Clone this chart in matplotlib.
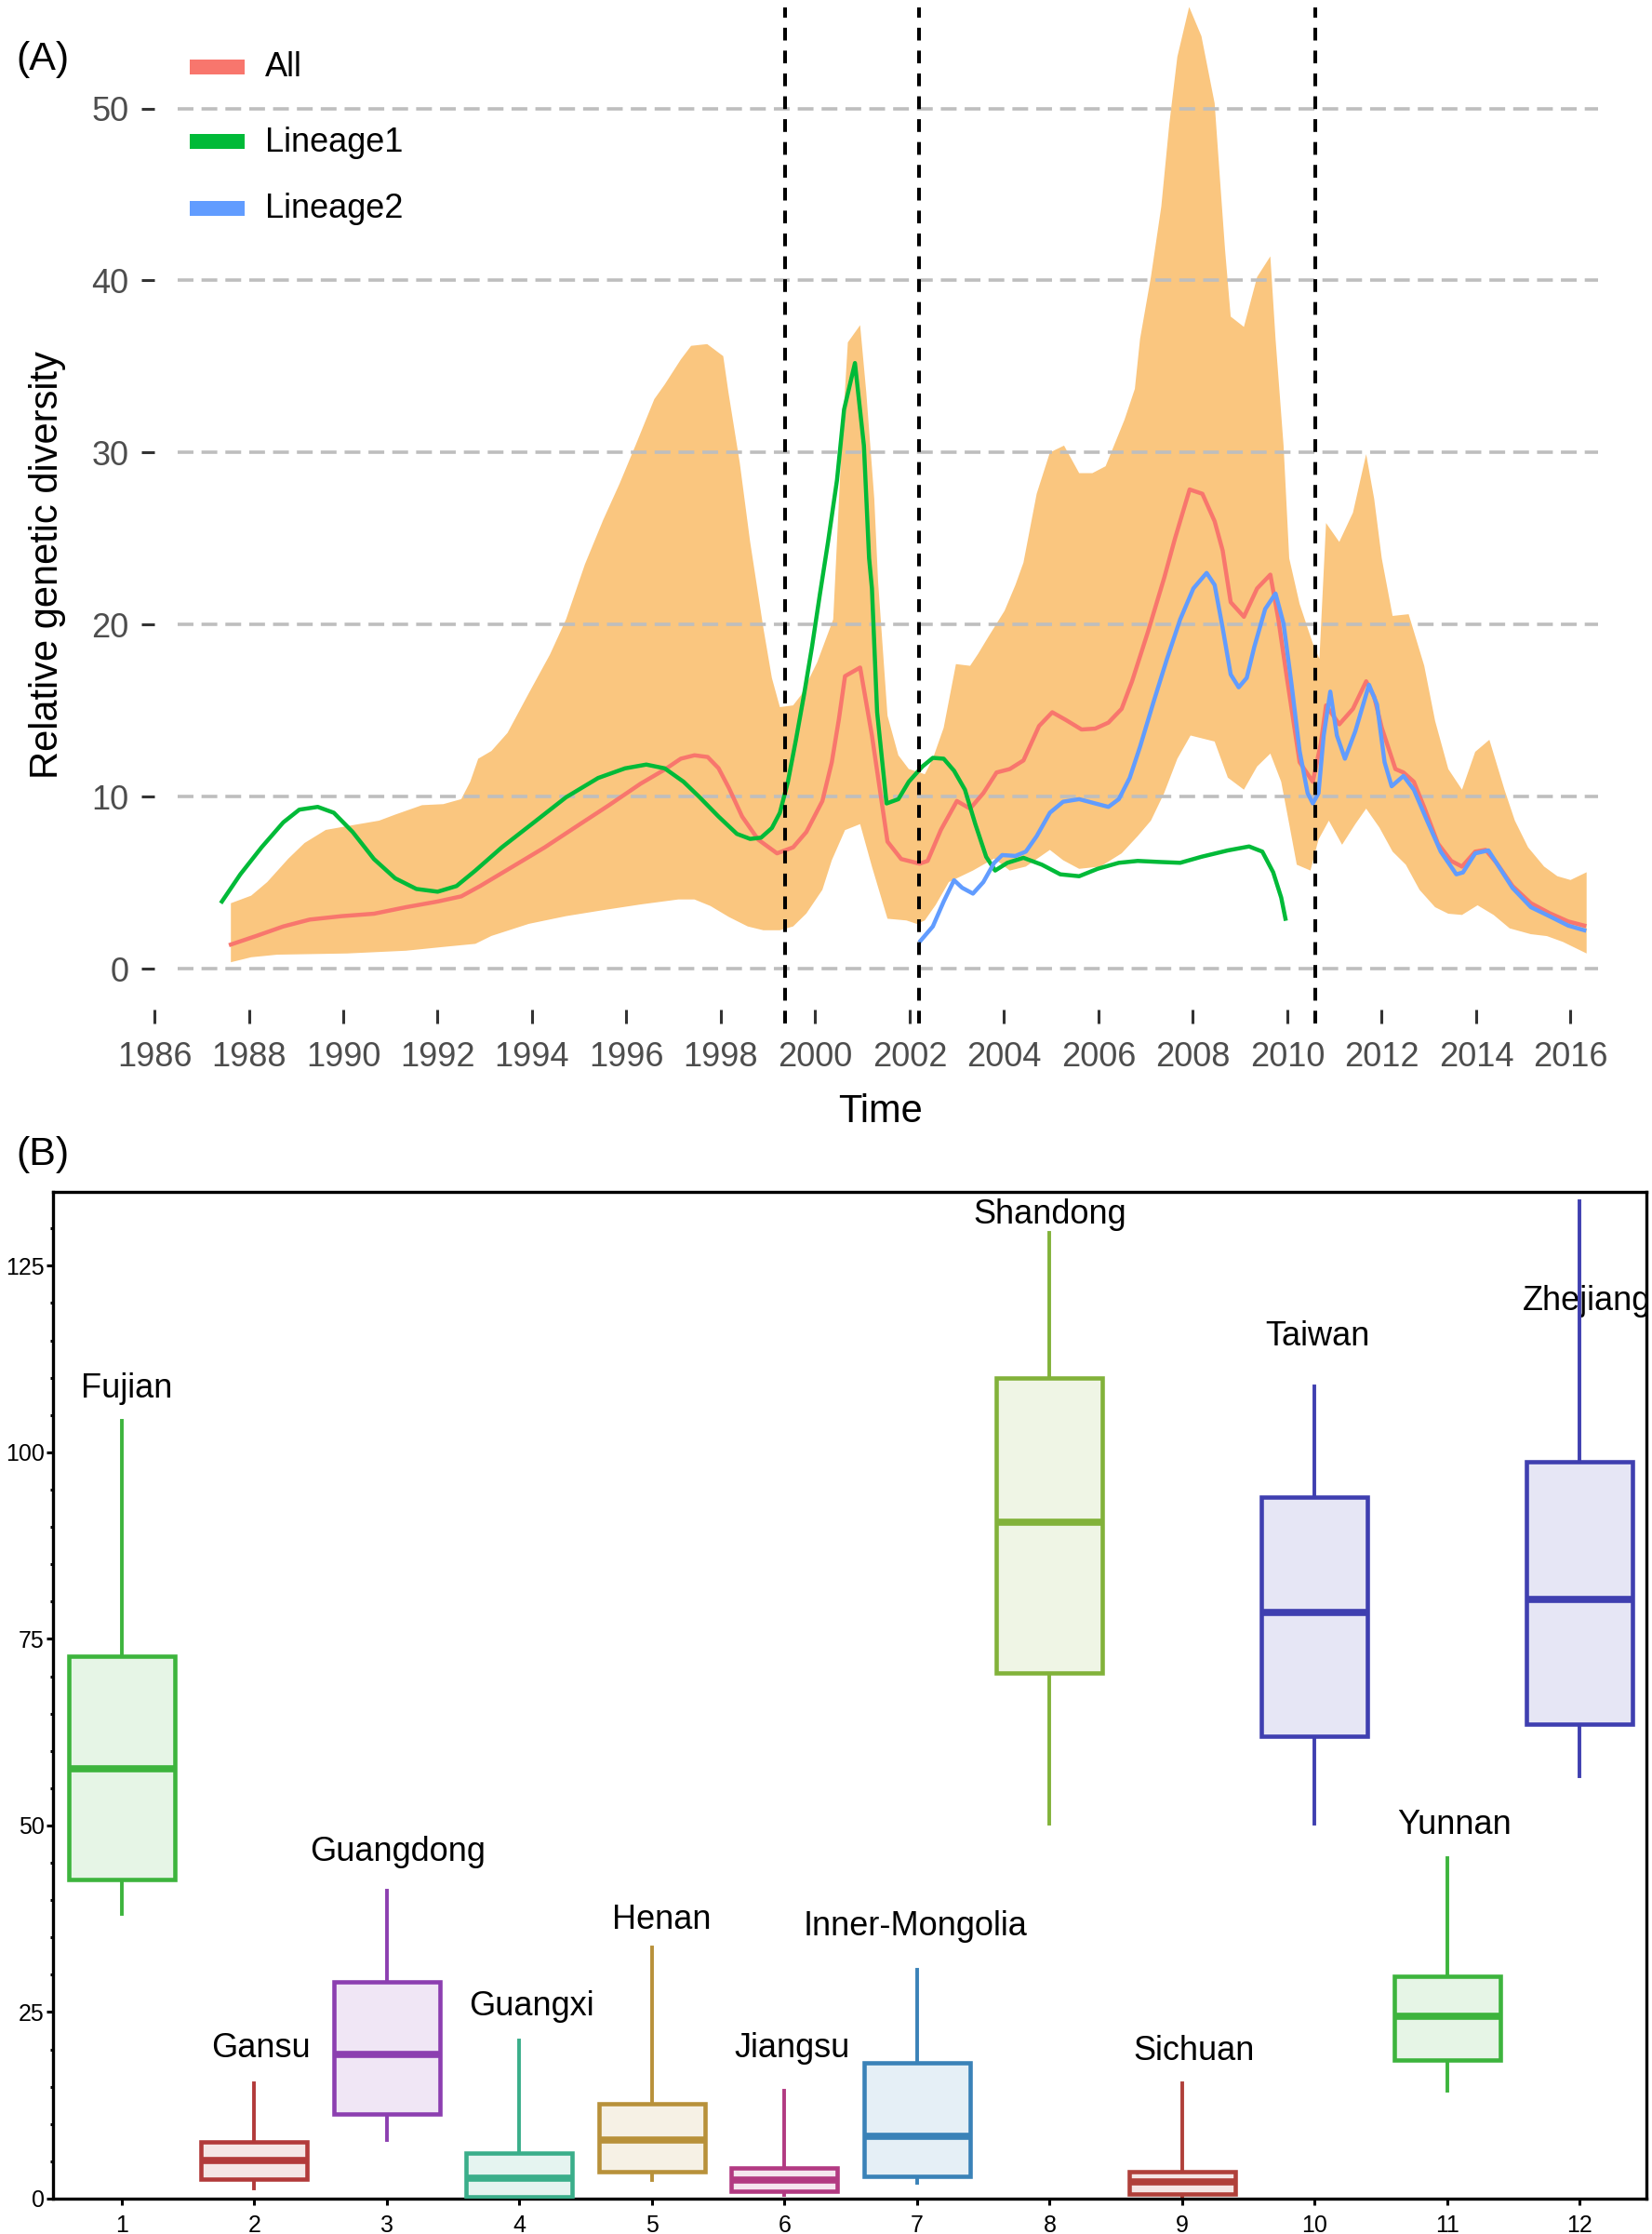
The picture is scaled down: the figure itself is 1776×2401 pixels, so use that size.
import numpy as np
import matplotlib
matplotlib.use("Agg")
import matplotlib.pyplot as plt
from matplotlib.patches import Rectangle
from matplotlib.ticker import MultipleLocator

plt.rcParams['font.family'] = ['Liberation Sans', 'DejaVu Sans']

# ---------------- Panel A data ----------------
ci_upper_year = [1987.62, 1988.05, 1988.39, 1988.84, 1989.18, 1989.63, 1990.08, 1990.76, 1991.10,
                 1991.67, 1992.12, 1992.50, 1992.69, 1992.86, 1993.14, 1993.48, 1993.93, 1994.38,
                 1994.72, 1995.12, 1995.51, 1995.85, 1996.19, 1996.59, 1996.81, 1997.15, 1997.37,
                 1997.71, 1998.05, 1998.16, 1998.40, 1998.62, 1998.90, 1999.08, 1999.25, 1999.53,
                 1999.70, 2000.04, 2000.38, 2000.55, 2000.69, 2000.95, 2001.08, 2001.25, 2001.33,
                 2001.53, 2001.76, 2001.98, 2002.32, 2002.49, 2002.72, 2002.98, 2003.28, 2003.45,
                 2003.67, 2004.01, 2004.24, 2004.41, 2004.69, 2004.97, 2005.27, 2005.59, 2005.87,
                 2006.15, 2006.55, 2006.77, 2006.88, 2007.11, 2007.33, 2007.50, 2007.67, 2007.92,
                 2008.18, 2008.46, 2008.57, 2008.68, 2008.80, 2009.08, 2009.36, 2009.64, 2009.75,
                 2009.92, 2010.04, 2010.26, 2010.43, 2010.54, 2010.68, 2010.82, 2011.10, 2011.39,
                 2011.67, 2011.84, 2012.00, 2012.23, 2012.57, 2012.90, 2013.13, 2013.41, 2013.70,
                 2013.98, 2014.28, 2014.60, 2014.82, 2015.10, 2015.44, 2015.72, 2016.00, 2016.34]
ci_upper_val = [3.8, 4.24, 5.03, 6.4, 7.3, 8.06, 8.28, 8.6, 8.95,
                9.5, 9.56, 9.85, 10.86, 12.2, 12.65, 13.7, 16.0, 18.26,
                20.3, 23.5, 26.1, 28.16, 30.4, 33.1, 33.95, 35.4, 36.2,
                36.3, 35.6, 33.5, 29.4, 24.8, 19.8, 16.9, 15.2, 15.3,
                15.9, 17.8, 20.3, 30.0, 36.4, 37.4, 33.5, 27.3, 22.5,
                14.7, 12.4, 11.6, 11.3, 12.2, 14.0, 17.7, 17.6, 18.3,
                19.3, 20.8, 22.3, 23.6, 27.6, 30.0, 30.4, 28.8, 28.8,
                29.2, 31.9, 33.7, 36.6, 40.2, 44.3, 49.1, 53.0, 55.9,
                54.2, 50.3, 46.0, 41.8, 37.9, 37.3, 40.2, 41.4, 36.6,
                30.4, 23.85, 21.2, 19.8, 18.9, 18.0, 25.9, 24.8, 26.5,
                29.9, 27.3, 23.85, 20.5, 20.6, 17.6, 14.4, 11.6, 10.4,
                12.6, 13.3, 10.4, 8.6, 7.05, 5.93, 5.37, 5.15, 5.6]

ci_lower_year = [1987.62, 1988.05, 1988.60, 1990.08, 1991.33, 1992.12, 1992.80, 1993.14, 1993.93,
                 1994.72, 1995.51, 1996.30, 1997.10, 1997.44, 1997.78, 1998.17, 1998.57, 1998.90,
                 1999.25, 1999.53, 1999.81, 2000.15, 2000.35, 2000.63, 2000.95, 2001.20, 2001.53,
                 2001.93, 2002.15, 2002.32, 2002.55, 2002.83, 2003.34, 2003.79, 2004.12, 2004.46,
                 2004.97, 2005.25, 2005.59, 2006.04, 2006.49, 2006.83, 2007.11, 2007.39, 2007.67,
                 2007.95, 2008.46, 2008.74, 2009.08, 2009.36, 2009.64, 2009.87, 2010.04, 2010.20,
                 2010.49, 2010.66, 2010.88, 2011.16, 2011.44, 2011.67, 2011.95, 2012.23, 2012.51,
                 2012.80, 2013.13, 2013.41, 2013.70, 2014.03, 2014.37, 2014.71, 2015.16, 2015.50,
                 2015.84, 2016.34]
ci_lower_val = [0.37, 0.66, 0.81, 0.88, 1.04, 1.26, 1.44, 1.9, 2.6,
                3.05, 3.4, 3.73, 4.02, 4.02, 3.64, 3.0, 2.45, 2.23,
                2.23, 2.45, 3.2, 4.58, 6.3, 8.05, 8.4, 5.93, 2.9,
                2.8, 2.6, 2.8, 3.7, 5.03, 5.7, 6.4, 5.7, 5.93,
                6.9, 6.3, 5.8, 5.93, 6.7, 7.7, 8.6, 10.2, 12.2,
                13.55, 13.2, 11.1, 10.4, 11.75, 12.5, 10.86, 8.4, 6.04,
                5.7, 7.5, 8.6, 7.2, 8.4, 9.3, 8.2, 6.8, 6.04,
                4.58, 3.57, 3.19, 3.12, 3.68, 3.12, 2.34, 2.0, 1.89,
                1.55, 0.88]

all_year = [1987.62, 1988.16, 1988.73, 1989.29, 1989.97, 1990.65, 1991.33, 1992.00, 1992.50,
            1992.90, 1993.59, 1994.27, 1994.95, 1995.63, 1996.30, 1996.81, 1997.15, 1997.44,
            1997.72, 1997.95, 1998.17, 1998.45, 1998.79, 1999.19, 1999.53, 1999.81, 2000.15,
            2000.35, 2000.50, 2000.63, 2000.95, 2001.20, 2001.53, 2001.82, 2002.21, 2002.38,
            2002.66, 2003.00, 2003.28, 2003.56, 2003.84, 2004.12, 2004.41, 2004.74, 2005.02,
            2005.31, 2005.64, 2005.93, 2006.21, 2006.49, 2006.71, 2007.05, 2007.39, 2007.62,
            2007.93, 2008.20, 2008.46, 2008.63, 2008.80, 2009.08, 2009.36, 2009.64, 2009.81,
            2009.98, 2010.15, 2010.26, 2010.54, 2010.71, 2010.82, 2011.10, 2011.39, 2011.67,
            2011.84, 2012.00, 2012.29, 2012.46, 2012.68, 2012.91, 2013.19, 2013.47, 2013.70,
            2013.98, 2014.20, 2014.43, 2014.77, 2015.16, 2015.55, 2015.95, 2016.29]
all_val = [1.4, 1.9, 2.45, 2.85, 3.05, 3.19, 3.57, 3.9, 4.2,
           4.8, 5.93, 7.05, 8.28, 9.5, 10.75, 11.57, 12.2, 12.4,
           12.3, 11.65, 10.5, 8.84, 7.5, 6.7, 7.05, 7.94, 9.74,
           12.0, 14.5, 17.0, 17.5, 13.55, 7.38, 6.37, 6.1, 6.26,
           8.06, 9.74, 9.3, 10.2, 11.4, 11.6, 12.1, 14.1, 14.9,
           14.45, 13.9, 13.95, 14.3, 15.1, 16.7, 19.6, 22.7, 25.0,
           27.85, 27.6, 26.0, 24.3, 21.3, 20.45, 22.1, 22.9, 20.3,
           17.1, 14.0, 12.0, 10.86, 13.1, 15.3, 14.2, 15.1, 16.7,
           15.8, 14.0, 11.6, 11.4, 10.86, 9.3, 7.27, 6.26, 5.93,
           6.8, 6.9, 6.15, 4.8, 3.8, 3.23, 2.74, 2.5]

lin1_year = [1987.43, 1987.82, 1988.27, 1988.73, 1989.07, 1989.46, 1989.80, 1990.20, 1990.65,
             1991.10, 1991.55, 1992.00, 1992.40, 1992.80, 1993.36, 1994.04, 1994.72, 1995.40,
             1995.97, 1996.42, 1996.81, 1997.21, 1997.55, 1997.95, 1998.34, 1998.62, 1998.85,
             1999.08, 1999.25, 1999.42, 1999.59, 1999.76, 1999.93, 2000.10, 2000.27, 2000.46,
             2000.61, 2000.84, 2001.03, 2001.14, 2001.20, 2001.31, 2001.51, 2001.76, 2001.98,
             2002.27, 2002.49, 2002.72, 2002.94, 2003.17, 2003.39, 2003.62, 2003.81, 2004.07,
             2004.41, 2004.80, 2005.19, 2005.59, 2005.98, 2006.43, 2006.83, 2007.28, 2007.73,
             2008.18, 2008.74, 2009.19, 2009.47, 2009.70, 2009.87, 2009.96]
lin1_val = [3.9, 5.48, 7.05, 8.5, 9.24, 9.4, 9.06, 7.94, 6.37,
            5.25, 4.63, 4.47, 4.8, 5.7, 7.05, 8.5, 9.96, 11.08,
            11.64, 11.86, 11.64, 10.86, 9.96, 8.84, 7.83, 7.54, 7.61,
            8.17, 9.06, 10.86, 13.3, 15.9, 18.7, 21.8, 24.8, 28.4,
            32.5, 35.2, 30.4, 23.85, 22.1, 14.9, 9.6, 9.85, 10.86,
            11.75, 12.25, 12.2, 11.5, 10.4, 8.4, 6.5, 5.7, 6.15,
            6.44, 6.04, 5.48, 5.37, 5.8, 6.15, 6.26, 6.2, 6.15,
            6.5, 6.87, 7.1, 6.8, 5.6, 4.13, 2.9]

lin2_year = [2002.23, 2002.49, 2002.72, 2002.94, 2003.11, 2003.34, 2003.56, 2003.79, 2003.96,
             2004.24, 2004.46, 2004.69, 2004.97, 2005.25, 2005.59, 2005.93, 2006.21, 2006.43,
             2006.66, 2006.88, 2007.16, 2007.45, 2007.73, 2008.01, 2008.29, 2008.46, 2008.63,
             2008.80, 2008.97, 2009.14, 2009.30, 2009.53, 2009.75, 2009.92, 2010.09, 2010.26,
             2010.43, 2010.54, 2010.66, 2010.77, 2010.91, 2011.05, 2011.22, 2011.44, 2011.73,
             2011.90, 2012.06, 2012.21, 2012.46, 2012.68, 2012.96, 2013.25, 2013.58, 2013.72,
             2013.98, 2014.26, 2014.48, 2014.77, 2015.16, 2015.55, 2015.95, 2016.29]
lin2_val = [1.62, 2.45, 3.9, 5.14, 4.7, 4.36, 5.03, 6.15, 6.6,
            6.55, 6.8, 7.7, 9.06, 9.7, 9.85, 9.6, 9.4, 9.85,
            11.08, 12.9, 15.45, 18.0, 20.3, 22.1, 23.0, 22.3, 19.8,
            17.1, 16.35, 16.9, 18.7, 20.9, 21.8, 20.05, 16.5, 12.65,
            10.2, 9.6, 10.2, 13.55, 16.1, 13.55, 12.2, 13.8, 16.5,
            15.35, 12.0, 10.6, 11.2, 10.4, 8.6, 6.8, 5.48, 5.59,
            6.7, 6.87, 5.93, 4.69, 3.57, 3.05, 2.5, 2.23]

breakpoints = [1999.36, 2002.20, 2010.59]
legend_labels = ['All', 'Lineage1', 'Lineage2']
line_colors = ['#F8766D', '#00BA38', '#619CFF']

# ---------------- Panel B data ----------------
provinces = ['Fujian', 'Gansu', 'Guangdong', 'Guangxi', 'Henan', 'Jiangsu',
             'Inner-Mongolia', 'Shandong', 'Sichuan', 'Taiwan', 'Yunnan', 'Zhejiang']
whis_lo = [38.1, 1.43, 7.8, 0.2, 2.54, 0.48, 2.06, 50.2, 0.29, 50.3, 14.5, 56.6]
q1 = [42.8, 2.63, 11.3, 0.29, 3.64, 0.96, 3.0, 70.4, 0.62, 62.0, 18.6, 63.6]
median = [57.6, 5.07, 19.3, 2.68, 7.8, 2.44, 8.4, 90.7, 2.2, 78.6, 24.4, 80.3]
q3 = [72.7, 7.55, 29.1, 6.1, 12.7, 4.1, 18.2, 110.0, 3.63, 94.0, 29.8, 98.7]
whis_hi = [104.2, 15.4, 41.3, 21.2, 33.6, 14.5, 30.7, 129.4, 15.4, 108.9, 45.6, 133.7]
label_x = [1.04, 2.05, 3.08, 4.09, 5.07, 6.06, 6.99, 8.0, 9.09, 10.02, 11.05, 12.05]
label_y = [108.5, 20.1, 46.4, 25.8, 37.3, 20.1, 36.5, 131.8, 19.7, 115.5, 50.1, 120.3]
box_colors = ['#3DB43D', '#B23A3A', '#8C3FB0', '#3AAE8A', '#B8913A', '#B23A82',
              '#3A82B8', '#82B23A', '#B0403A', '#3F3FB0', '#3DB43D', '#3F3FB0']

fig = plt.figure(figsize=(17.76, 24.01), dpi=100)

# ================= Panel A =================
axA = fig.add_axes([0.09347, 0.54186, 0.8761, 0.45481])
axA.set_xlim(1986.0, 2016.66)
axA.set_ylim(-3.19, 55.87)
for s in axA.spines.values():
    s.set_visible(False)

poly_x = np.r_[ci_upper_year, ci_lower_year[::-1]]
poly_y = np.r_[ci_upper_val, ci_lower_val[::-1]]
axA.fill(poly_x, poly_y, color='#FAC67F', lw=0, zorder=1)

for yv in range(0, 51, 10):
    axA.plot([1986.5, 2016.58], [yv, yv], color='#BEBEBE', lw=2.6,
             linestyle=(0, (4.7, 2.4)), zorder=2)

axA.plot(all_year, all_val, color=line_colors[0], lw=3.2, zorder=3)
axA.plot(lin1_year, lin1_val, color=line_colors[1], lw=3.2, zorder=3)
axA.plot(lin2_year, lin2_val, color=line_colors[2], lw=3.2, zorder=3)

for bp in breakpoints:
    axA.axvline(bp, color='black', lw=2.9, linestyle=(0, (3.4, 2.7)), zorder=4)

axA.set_xticks(np.arange(1986, 2017, 2))
axA.set_yticks(np.arange(0, 51, 10))
axA.tick_params(axis='x', direction='in', length=11, width=2.2, color='#333333',
                labelsize=26, labelcolor='#4D4D4D', pad=14)
axA.tick_params(axis='y', direction='out', length=10, width=2.2, color='#333333',
                labelsize=26, labelcolor='#4D4D4D', pad=10)

# legend drawn by hand, ggplot style keys
key_tops = [64, 143.5, 216]
text_base = [81.5, 162.6, 234]
for lab, col, kt, tb in zip(legend_labels, line_colors, key_tops, text_base):
    fig.add_artist(Rectangle((204 / 1776, 1 - (kt + 16) / 2401), 59 / 1776, 16 / 2401,
                             transform=fig.transFigure, color=col, lw=0))
    fig.text(285 / 1776, 1 - tb / 2401, lab, fontsize=26, va='baseline', ha='left')

fig.text(51 / 1776, 0.7472, 'Relative genetic diversity', rotation=90,
         ha='center', va='center', fontsize=30)
fig.text(946 / 1776, 1 - 1206 / 2401, 'Time', ha='center', va='baseline', fontsize=30)
fig.text(17 / 1776, 1 - 74.6 / 2401, '(A)', ha='left', va='baseline', fontsize=31)
fig.text(17 / 1776, 1 - 1251.7 / 2401, '(B)', ha='left', va='baseline', fontsize=31)

# ================= Panel B =================
axB = fig.add_axes([0.03232, 0.01583, 0.96430, 0.45065])
axB.set_xlim(0.484, 12.502)
axB.set_ylim(0, 134.9)
for s in axB.spines.values():
    s.set_linewidth(2.4)
    s.set_color('black')

stats = []
for i in range(len(provinces)):
    stats.append(dict(label=provinces[i], whislo=whis_lo[i], q1=q1[i], med=median[i],
                      q3=q3[i], whishi=whis_hi[i], fliers=[]))
bp = axB.bxp(stats, positions=np.arange(1, 13), widths=0.8, patch_artist=True,
             showcaps=False, showfliers=False)
for i, col in enumerate(box_colors):
    rgb = np.array(matplotlib.colors.to_rgb(col))
    fill = 0.13 * rgb + 0.87
    bp['boxes'][i].set(facecolor=fill, edgecolor=col, linewidth=3.3, zorder=3)
    bp['medians'][i].set(color=col, linewidth=5.5, solid_capstyle='butt', zorder=4)
    for w in bp['whiskers'][2 * i:2 * i + 2]:
        w.set(color=col, linewidth=2.8, zorder=2)

for lx, ly, name in zip(label_x, label_y, provinces):
    axB.text(lx, ly, name, ha='center', va='center', fontsize=26, clip_on=True, zorder=1)

axB.set_xticks(np.arange(1, 13))
axB.set_xticklabels([str(i) for i in range(1, 13)])
axB.set_yticks(np.arange(0, 126, 25))
axB.yaxis.set_minor_locator(MultipleLocator(5))
axB.tick_params(axis='both', which='major', direction='out', length=5, width=2.2,
                color='black', labelsize=18, labelcolor='black')
axB.tick_params(axis='y', which='minor', direction='out', length=2.5, width=2.2, color='black')
axB.tick_params(axis='x', pad=7)
axB.tick_params(axis='y', pad=2)

fig.savefig('out.png', dpi=100, facecolor='white')
